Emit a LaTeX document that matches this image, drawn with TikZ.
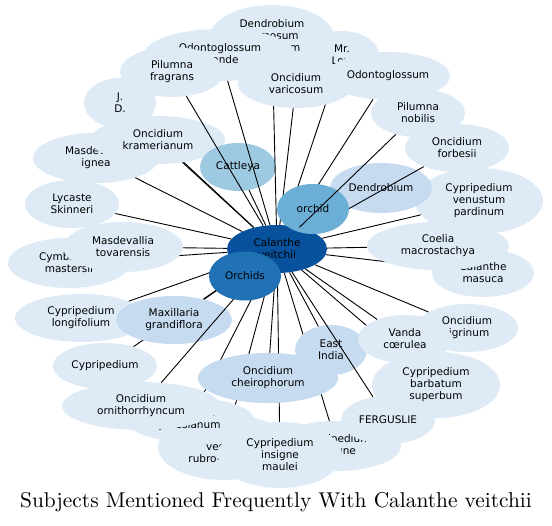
\documentclass[tikz,border=0pt]{standalone}
\usepackage{fontspec}
\setsansfont{DejaVu Sans}
\newfontfamily\titlefont{lmroman10-regular.otf}
\usepackage{xcolor}
\definecolor{subjlight}{HTML}{DEEBF7}
\definecolor{subjmid}{HTML}{C6DBEF}
\definecolor{subjcatt}{HTML}{9ECAE1}
\definecolor{subjorch}{HTML}{6BAED6}
\definecolor{subjors}{HTML}{2171B5}
\definecolor{subjdark}{HTML}{08519C}
\usepackage{tikz}
\usetikzlibrary{shapes.geometric}

% subject ellipse followed by its link to the centre
% #1 name, #2 x, #3 y, #4 x radius, #5 y radius, #6 colour, #7 text
\newcommand{\subjnode}[7]{%
    \node[subj,fill=#6,minimum width=2*#4,minimum height=2*#5] (#1) at (#2,#3) {#7};
    \draw[link] (cal) -- (#1);
}

\begin{document}
\begin{tikzpicture}[x=1pt,y=-1pt,
    subj/.style={ellipse,inner sep=0pt,align=center,font=\sffamily\fontsize{10.5}{12}\selectfont},
    link/.style={black,line width=0.9pt}]
    \useasboundingbox (0,0) rectangle (552,526);

    % Central subject
    \node[subj,fill=subjdark,minimum width=100,minimum height=48] (cal) at (277,249) {Calanthe\\veitchii};

    % Subjects in drawing order
    \subjnode{mig}{96}{158}{63}{25}{subjlight}{Masdevallia\\ignea}
    \subjnode{jd}{120}{103}{36}{25}{subjlight}{J.\\D.}
    \subjnode{okr}{158}{140}{67}{24}{subjlight}{Oncidium\\kramerianum}
    \subjnode{cat}{238}{167}{38}{24}{subjcatt}{Cattleya}
    \subjnode{dfg}{272}{37}{62}{32}{subjlight}{Dendrobium\\formosum\\giganteum}
    \subjnode{ogr}{220}{55}{76}{26}{subjlight}{Odontoglossum\\grande}
    \subjnode{pfr}{172}{72}{52}{25}{subjlight}{Pilumna\\fragrans}
    \subjnode{mrl}{342}{55}{37}{24}{subjlight}{Mr.\\Low}
    \subjnode{ova}{296}{84}{58}{24}{subjlight}{Oncidium\\varicosum}
    \subjnode{odo}{388}{76}{62}{24}{subjlight}{Odontoglossum}
    \subjnode{cvp}{479}{201}{64}{33}{subjlight}{Cypripedium\\venustum\\pardinum}
    \subjnode{den}{381}{188}{51}{25}{subjmid}{Dendrobium}
    \subjnode{ofo}{457}{148}{52}{24}{subjlight}{Oncidium\\forbesii}

    \node[subj,fill=subjorch,minimum width=72,minimum height=50] (orc) at (313,209) {orchid};

    \subjnode{pno}{418}{113}{47}{24}{subjlight}{Pilumna\\nobilis}
    \subjnode{lsk}{72}{204}{47}{24}{subjlight}{Lycaste\\Skinneri}
    \subjnode{cma}{69}{263}{61}{25}{subjlight}{Cymbidium\\mastersii}
    \subjnode{mto}{123}{247}{60}{25}{subjlight}{Masdevallia\\tovarensis}
    \subjnode{cms}{483}{273}{51}{24}{subjlight}{Calanthe\\masuca}
    \subjnode{cmc}{438}{246}{71}{24}{subjlight}{Coelia\\macrostachya}
    \subjnode{oti}{467}{328}{51}{24}{subjlight}{Oncidium\\tigrinum}
    \subjnode{cbs}{436}{385}{64}{33}{subjlight}{Cypripedium\\barbatum\\superbum}
    \subjnode{cin}{337}{446}{64}{25}{subjlight}{Cypripedium\\insigne}
    \subjnode{ein}{331}{350}{36}{25}{subjmid}{East\\India}
    \subjnode{vco}{405}{339}{47}{24}{subjlight}{Vanda\\cœrulea}
    \subjnode{fer}{388}{420}{47}{24}{subjlight}{FERGUSLIE}
    \subjnode{cvr}{224}{447}{66}{33}{subjlight}{Calanthe\\vestita\\rubro-oculata}
    \subjnode{ojo}{190}{420}{64}{22}{subjlight}{Oncidium\\Jonesianum}
    \subjnode{cim}{280}{455}{62}{33}{subjlight}{Cypripedium\\insigne\\maulei}
    \subjnode{och}{268}{378}{70}{25}{subjmid}{Oncidium\\cheirophorum}
    \subjnode{clo}{81}{318}{66}{24}{subjlight}{Cypripedium\\longifolium}
    \subjnode{cyp}{105}{366}{52}{23}{subjlight}{Cypripedium}
    \subjnode{mgr}{174}{320}{58}{24}{subjmid}{Maxillaria\\grandiflora}
    \subjnode{oor}{141}{406}{79}{24}{subjlight}{Oncidium\\ornithorrhyncum}

    \node[subj,fill=subjors,minimum width=72,minimum height=49] (ors) at (245,276) {Orchids};

    % Title
    \node[anchor=base,font=\titlefont\fontsize{21.4}{25}\selectfont] (title) at (276,508) {Subjects Mentioned Frequently With Calanthe veitchii};
\end{tikzpicture}
\end{document}
